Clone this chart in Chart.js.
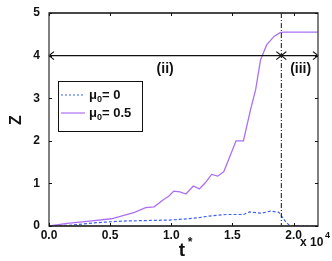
<!DOCTYPE html>
<html>
<head>
<meta charset="utf-8">
<script src="https://cdn.jsdelivr.net/npm/chart.js@4"></script>
<style>
  html, body { margin: 0; padding: 0; background: #fff; }
  #wrap { width: 332px; height: 261px; }
</style>
</head>
<body>
<div id="wrap"><canvas id="zChart"></canvas></div>
<script>
// t* values are in units of 10^4
const tPurple = [0, 0.15, 0.35, 0.51, 0.70, 0.79, 0.86, 0.94, 0.98, 1.02, 1.07, 1.12, 1.18, 1.23, 1.28, 1.33, 1.38, 1.43, 1.48, 1.53, 1.59, 1.61, 1.65, 1.69, 1.73, 1.78, 1.84, 1.89, 1.92, 2.2];
const zPurple = [0, 0.06, 0.12, 0.17, 0.32, 0.43, 0.45, 0.63, 0.70, 0.82, 0.80, 0.75, 0.94, 0.87, 1.02, 1.21, 1.17, 1.28, 1.64, 2.0, 2.0, 2.25, 2.75, 3.2, 3.9, 4.25, 4.45, 4.54, 4.55, 4.55];

const tBlue = [0, 0.19, 0.32, 0.40, 0.51, 0.65, 0.83, 0.99, 1.09, 1.21, 1.33, 1.45, 1.59, 1.64, 1.74, 1.81, 1.88, 1.93, 1.97, 2.2];
const zBlue = [0, 0.02, 0.06, 0.08, 0.10, 0.12, 0.13, 0.14, 0.16, 0.19, 0.24, 0.27, 0.27, 0.33, 0.30, 0.35, 0.32, 0.12, 0, 0];

const xTicks = [0, 0.5, 1.0, 1.5, 2.0];
const yTicks = [0, 1, 2, 3, 4, 5];
const boundaryT = 1.9;   // dash-dot line between regions
const arrowZ = 4;        // height of the region arrows
const regionLabels = ['(ii)', '(iii)'];

const purple = '#ab70f2';
const blue = '#3d5ff2';
const ink = '#111';
const fam = '"Liberation Sans", Arial, sans-serif';

function pairs(xs, ys) {
    return xs.map((x, i) => ({ x: x, y: ys[i] }));
}

// frame, ticks, arrows, labels and legend
const extras = {
    id: 'extras',
    afterDraw(chart) {
        const ctx = chart.ctx;
        const a = chart.chartArea;
        const xs = chart.scales.x, ys = chart.scales.y;
        ctx.save();

        // dash-dot boundary
        const bx = xs.getPixelForValue(boundaryT);
        ctx.strokeStyle = ink;
        ctx.lineWidth = 1;
        ctx.setLineDash([5, 2, 1, 2]);
        ctx.beginPath();
        ctx.moveTo(bx, a.top);
        ctx.lineTo(bx, a.bottom);
        ctx.stroke();
        ctx.setLineDash([]);

        // arrow line at Z = 4
        const ay = ys.getPixelForValue(arrowZ);
        ctx.lineWidth = 1.2;
        ctx.beginPath();
        ctx.moveTo(a.left, ay);
        ctx.lineTo(a.right, ay);
        ctx.moveTo(a.left + 5, ay - 4); ctx.lineTo(a.left, ay); ctx.lineTo(a.left + 5, ay + 4);
        ctx.moveTo(a.right - 5, ay - 4); ctx.lineTo(a.right, ay); ctx.lineTo(a.right - 5, ay + 4);
        ctx.moveTo(bx - 5, ay - 4); ctx.lineTo(bx, ay); ctx.lineTo(bx - 5, ay + 4);
        ctx.moveTo(bx + 5, ay - 4); ctx.lineTo(bx, ay); ctx.lineTo(bx + 5, ay + 4);
        ctx.stroke();

        ctx.fillStyle = ink;
        ctx.font = 'bold 14px ' + fam;
        ctx.textAlign = 'center';
        ctx.textBaseline = 'middle';
        ctx.fillText(regionLabels[0], (a.left + bx) / 2, ay + 14);
        ctx.fillText(regionLabels[1], (bx + a.right) / 2 + 1, ay + 14);

        // frame
        ctx.strokeStyle = '#555';
        ctx.lineWidth = 1.5;
        ctx.strokeRect(a.left, a.top, a.right - a.left, a.bottom - a.top);
        ctx.strokeStyle = ink;
        ctx.lineWidth = 1;
        ctx.beginPath();
        ctx.moveTo(a.left, a.top); ctx.lineTo(a.right, a.top);
        ctx.moveTo(a.left, a.bottom); ctx.lineTo(a.right, a.bottom);
        ctx.stroke();

        // inward ticks on all four sides
        ctx.beginPath();
        xTicks.forEach(v => {
            const px = Math.round(xs.getPixelForValue(v)) + 0.5;
            ctx.moveTo(px, a.bottom); ctx.lineTo(px, a.bottom - 3);
            ctx.moveTo(px, a.top); ctx.lineTo(px, a.top + 3);
        });
        yTicks.forEach(v => {
            const py = Math.round(ys.getPixelForValue(v)) + 0.5;
            ctx.moveTo(a.left, py); ctx.lineTo(a.left + 3, py);
            ctx.moveTo(a.right, py); ctx.lineTo(a.right - 3, py);
        });
        ctx.stroke();

        // axis titles
        ctx.font = 'bold 16px ' + fam;
        ctx.save();
        ctx.translate(17, 120);
        ctx.rotate(-Math.PI / 2);
        ctx.fillText('Z', 0, 0);
        ctx.restore();
        ctx.font = 'bold 19px ' + fam;
        ctx.fillText('t', 182, 251);
        ctx.font = 'bold 12px ' + fam;
        ctx.fillText('*', 190, 243);
        ctx.font = 'bold 12px ' + fam;
        ctx.textAlign = 'left';
        ctx.fillText('x 10', 300, 243);
        ctx.font = 'bold 9px ' + fam;
        ctx.fillText('4', 325, 236);

        // legend
        const lx = 58, ly = 81, lw = 84, lh = 50;
        ctx.fillStyle = '#fff';
        ctx.fillRect(lx, ly, lw, lh);
        ctx.strokeStyle = ink;
        ctx.lineWidth = 1;
        ctx.strokeRect(lx + 0.5, ly + 0.5, lw, lh);
        const entries = [
            { color: blue, dash: [2, 2], value: '0', y: ly + 14 },
            { color: purple, dash: [], value: '0.5', y: ly + 32 }
        ];
        entries.forEach(e => {
            ctx.strokeStyle = e.color;
            ctx.lineWidth = 1.2;
            ctx.setLineDash(e.dash);
            ctx.beginPath();
            ctx.moveTo(lx + 3, e.y); ctx.lineTo(lx + 27, e.y);
            ctx.stroke();
            ctx.setLineDash([]);
            ctx.fillStyle = ink;
            ctx.textBaseline = 'middle';
            ctx.font = 'bold 13px ' + fam;
            ctx.fillText('\u03bc', lx + 31, e.y);
            ctx.font = 'bold 9px ' + fam;
            ctx.fillText('0', lx + 39, e.y + 5);
            ctx.font = 'bold 13px ' + fam;
            ctx.fillText('= ' + e.value, lx + 44, e.y);
        });

        ctx.restore();
    }
};

const zConfig = {
    type: 'line',
    data: {
        datasets: [
            {
                label: 'mu0 = 0',
                data: pairs(tBlue, zBlue),
                borderColor: blue,
                borderWidth: 1.2,
                borderDash: [3, 2],
                pointRadius: 0,
                tension: 0
            },
            {
                label: 'mu0 = 0.5',
                data: pairs(tPurple, zPurple),
                borderColor: purple,
                borderWidth: 1.3,
                pointRadius: 0,
                tension: 0
            }
        ]
    },
    options: {
        responsive: false,
        animation: false,
        layout: { padding: { left: 0, right: 14, top: 13, bottom: 0 } },
        plugins: { legend: { display: false }, tooltip: { enabled: false } },
        scales: {
            x: {
                type: 'linear',
                min: 0,
                max: 2.2,
                afterBuildTicks: s => { s.ticks = xTicks.map(v => ({ value: v })); },
                afterFit: s => { s.height = 35; },
                grid: { display: false, drawTicks: false },
                border: { display: false },
                ticks: {
                    color: ink,
                    padding: 2,
                    maxRotation: 0,
                    font: { family: fam, size: 12, weight: 'bold' },
                    callback: v => v.toFixed(1)
                }
            },
            y: {
                min: 0,
                max: 5,
                afterBuildTicks: s => { s.ticks = yTicks.map(v => ({ value: v })); },
                afterFit: s => { s.width = 49; },
                grid: { display: false, drawTicks: true, tickLength: 6 },
                border: { display: false },
                ticks: {
                    color: ink,
                    padding: 3,
                    font: { family: fam, size: 12, weight: 'bold' }
                }
            }
        }
    },
    plugins: [extras]
};

const canvas = document.getElementById('zChart');
canvas.width = 332;
canvas.height = 261;
new Chart(canvas, zConfig);
</script>
</body>
</html>
